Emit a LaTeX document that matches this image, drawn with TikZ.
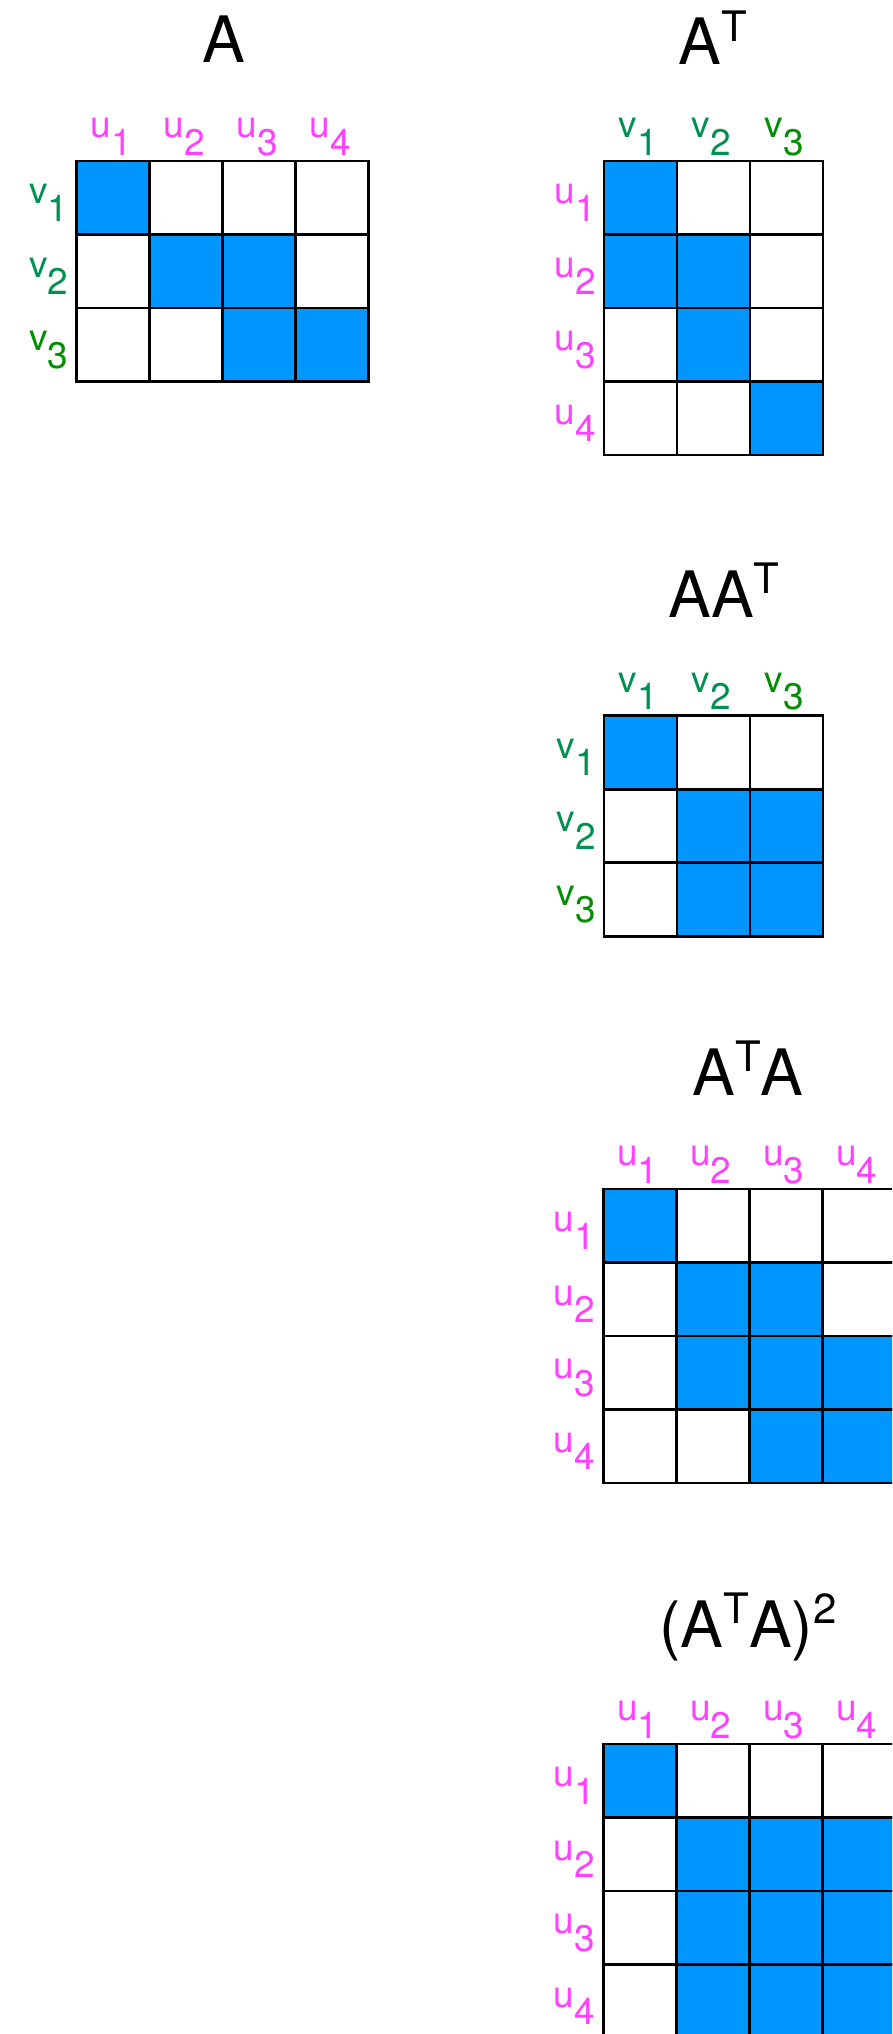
\documentclass[tikz,border=0pt]{standalone}
\usepackage{fontspec}
\setmainfont{TeX Gyre Heros}

\definecolor{aqua}{HTML}{0096FF}
\definecolor{ucol}{HTML}{FF40FF}
\definecolor{moss}{HTML}{009051}
\definecolor{clover}{HTML}{008F00}
\colorlet{cell0}{white}
\colorlet{cell1}{aqua}

\newcommand{\lbl}[2]{#1\raisebox{-17.5pt}{#2}}
\newcommand{\tsup}[1]{\raisebox{24pt}{\fontsize{42}{42}\selectfont #1}}

\begin{document}
\begin{tikzpicture}[
				x=1pt, y=-1pt,
				cell/.style={rectangle, draw=black, line width=2.6pt, minimum width=73pt,
					minimum height=73.5pt, inner sep=0pt, outer sep=0pt},
				title/.style={anchor=base, inner sep=0pt, font=\fontsize{64}{70}\selectfont},
				lab/.style={inner sep=0pt, font=\fontsize{37}{42}\selectfont},
				toplab/.style={lab, anchor=base},
				rowlab/.style={lab, anchor=base east}
				]
				\path[fill=white, use as bounding box] (0,0) rectangle (892,2034);
				\clip (0,0) rectangle (892,2034);
				
				% --- Top left: A ---
				\node[title] (tA) at (224,63) {A};
				\begin{scope}[shift={(76.7,161)}]
					\foreach \row [count=\r] in {{1,0,0,0},{0,1,1,0},{0,0,1,1}} {
						\foreach \v [count=\c] in \row {
							\node[cell, fill=cell\v] (A-\r-\c) at ({(\c-0.5)*73},{(\r-0.5)*73.5}) {};
						}
					}
					\foreach \c in {1,...,4}
						\node[toplab, text=ucol] (A-u\c) at ({(\c-0.5)*73-2},-23.5) {\lbl{u}{\c}};
					\foreach \r/\col in {1/moss,2/moss,3/clover}
						\node[rowlab, text=\col] (A-v\r) at (-8,{(\r-0.5)*73.5+6}) {\lbl{v}{\r}};
				\end{scope}
				
				% --- Top right: A^T ---
				\node[title] (tAT) at (713,65) {A\tsup{T}};
				\begin{scope}[shift={(604,161)}]
					\foreach \row [count=\r] in {{1,0,0},{1,1,0},{0,1,0},{0,0,1}} {
						\foreach \v [count=\c] in \row {
							\node[cell, fill=cell\v] (AT-\r-\c) at ({(\c-0.5)*73},{(\r-0.5)*73.5}) {};
						}
					}
					\foreach \c/\col in {1/moss,2/moss,3/clover}
						\node[toplab, text=\col] (AT-v\c) at ({(\c-0.5)*73-2},-23.5) {\lbl{v}{\c}};
					\foreach \r in {1,...,4}
						\node[rowlab, text=ucol] (AT-u\r) at (-8,{(\r-0.5)*73.5+6}) {\lbl{u}{\r}};
				\end{scope}
				
				% --- AA^T ---
				\node[title] (tAAT) at (724,617) {AA\tsup{T}};
				\begin{scope}[shift={(604,715.7)}]
					\foreach \row [count=\r] in {{1,0,0},{0,1,1},{0,1,1}} {
						\foreach \v [count=\c] in \row {
							\node[cell, fill=cell\v] (AAT-\r-\c) at ({(\c-0.5)*73},{(\r-0.5)*73.5}) {};
						}
					}
					\foreach \c/\col in {1/moss,2/moss,3/clover}
						\node[toplab, text=\col] (AAT-v\c) at ({(\c-0.5)*73-2},-23.5) {\lbl{v}{\c}};
					\foreach \r/\col in {1/moss,2/moss,3/clover}
						\node[rowlab, text=\col] (AAT-w\r) at (-8,{(\r-0.5)*73.5+6}) {\lbl{v}{\r}};
				\end{scope}
				
				% --- A^TA ---
				\node[title] (tATA) at (748,1095) {A\tsup{T}A};
				\begin{scope}[shift={(603.3,1189)}]
					\foreach \row [count=\r] in {{1,0,0,0},{0,1,1,0},{0,1,1,1},{0,0,1,1}} {
						\foreach \v [count=\c] in \row {
							\node[cell, fill=cell\v] (ATA-\r-\c) at ({(\c-0.5)*73},{(\r-0.5)*73.5}) {};
						}
					}
					\foreach \c in {1,...,4}
						\node[toplab, text=ucol] (ATA-u\c) at ({(\c-0.5)*73-2},-23.5) {\lbl{u}{\c}};
					\foreach \r in {1,...,4}
						\node[rowlab, text=ucol] (ATA-w\r) at (-8,{(\r-0.5)*73.5+6}) {\lbl{u}{\r}};
				\end{scope}
				
				% --- (A^TA)^2 ---
				\node[title] (tATA2) at (748,1647) {(A\tsup{T}A)\tsup{2}};
				\begin{scope}[shift={(603.3,1744)}]
					\foreach \row [count=\r] in {{1,0,0,0},{0,1,1,1},{0,1,1,1},{0,1,1,1}} {
						\foreach \v [count=\c] in \row {
							\node[cell, fill=cell\v] (SQ-\r-\c) at ({(\c-0.5)*73},{(\r-0.5)*73.5}) {};
						}
					}
					\foreach \c in {1,...,4}
						\node[toplab, text=ucol] (SQ-u\c) at ({(\c-0.5)*73-2},-23.5) {\lbl{u}{\c}};
					\foreach \r in {1,...,4}
						\node[rowlab, text=ucol] (SQ-w\r) at (-8,{(\r-0.5)*73.5+6}) {\lbl{u}{\r}};
				\end{scope}
			\end{tikzpicture}
\end{document}
